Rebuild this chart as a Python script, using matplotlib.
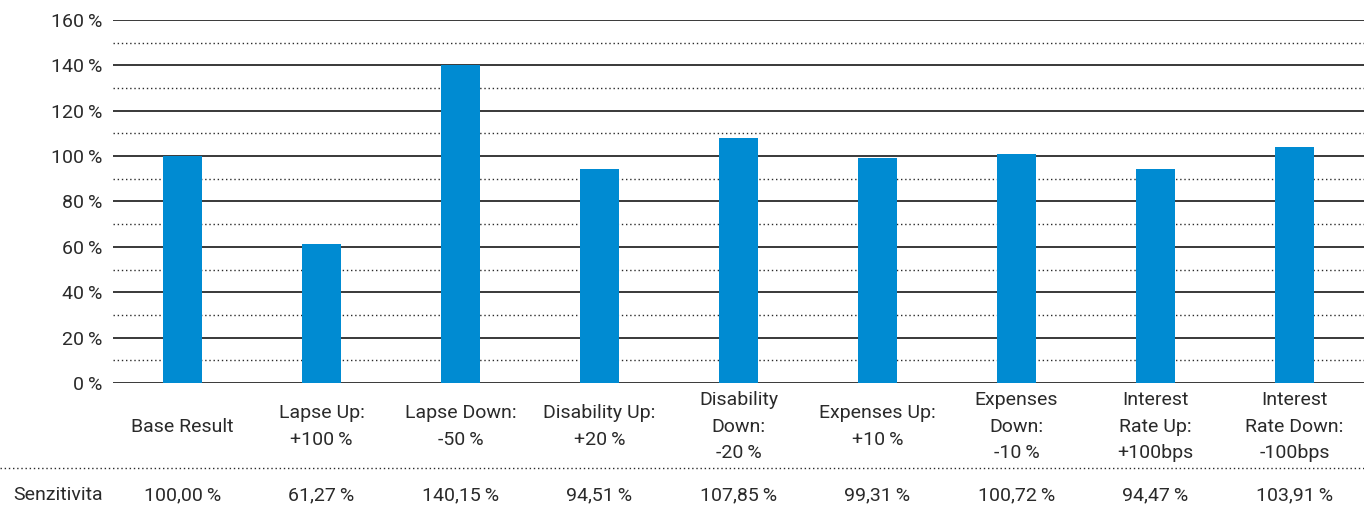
import numpy as np
import matplotlib
matplotlib.use("Agg")
import matplotlib.pyplot as plt

plt.rcParams['font.family'] = ['Roboto', 'DejaVu Sans']

categories = ["Base Result", "Lapse Up:\n+100\u2009%", "Lapse Down:\n-50\u2009%",
              "Disability Up:\n+20\u2009%", "Disability\nDown:\n-20\u2009%",
              "Expenses Up:\n+10\u2009%", "Expenses\nDown:\n-10\u2009%",
              "Interest\nRate Up:\n+100bps", "Interest\nRate Down:\n-100bps"]
values = [100.00, 61.27, 140.15, 94.51, 107.85, 99.31, 100.72, 94.47, 103.91]
row_label = "Senzitivita"
yticks = [0, 20, 40, 60, 80, 100, 120, 140, 160]

bar_color = "#008bd2"
text_color = "#2a2a2a"
fs = 14

fig = plt.figure(figsize=(13.64, 5.14), dpi=100)
ax = fig.add_axes([113 / 1364, 1 - 383 / 514, 1 - 113 / 1364, (383 - 20) / 514])

x = np.arange(len(categories))
ax.set_xlim(-0.5, len(categories) - 0.5)
ax.set_ylim(0, 160)

# grid: solid at 20s, dotted at 10s
for y in yticks:
    ax.axhline(y, color="#2a2a2a", lw=1.3, zorder=1)
for y in range(10, 160, 20):
    ax.axhline(y, color="#2a2a2a", lw=1.0, ls=(0, (1, 2)), zorder=1)

ax.bar(x, values, width=0.285, color=bar_color, zorder=2)

ax.set_yticks(yticks)
ax.set_yticklabels(["{}\u2009%".format(v) for v in yticks], fontsize=fs, color=text_color)
ax.tick_params(axis="y", length=0, pad=8)
ax.set_xticks([])
for s in ax.spines.values():
    s.set_visible(False)

# category labels under the bars
for xi, lab in zip(x, categories):
    ax.text(xi, -19.2, lab, ha="center", va="center", fontsize=fs, color=text_color,
            linespacing=1.62, transform=ax.transData, clip_on=False)

# table row
line_y = 1 - 468 / 514
fig.add_artist(plt.Line2D([0, 1], [line_y, line_y], transform=fig.transFigure,
                          color="#2a2a2a", lw=1.0, ls=(0, (1, 2))))
row_y = 1 - 495 / 514
fig.text(58 / 1364, row_y, row_label, ha="center", va="center", fontsize=fs, color=text_color)
for xi, v in zip(x, values):
    xf = fig.transFigure.inverted().transform(ax.transData.transform((xi, 0)))[0]
    s = "{:.2f}".format(v).replace(".", ",") + "\u2009%"
    fig.text(xf, row_y, s, ha="center", va="center", fontsize=fs, color=text_color)

fig.savefig("out.png", dpi=100)
